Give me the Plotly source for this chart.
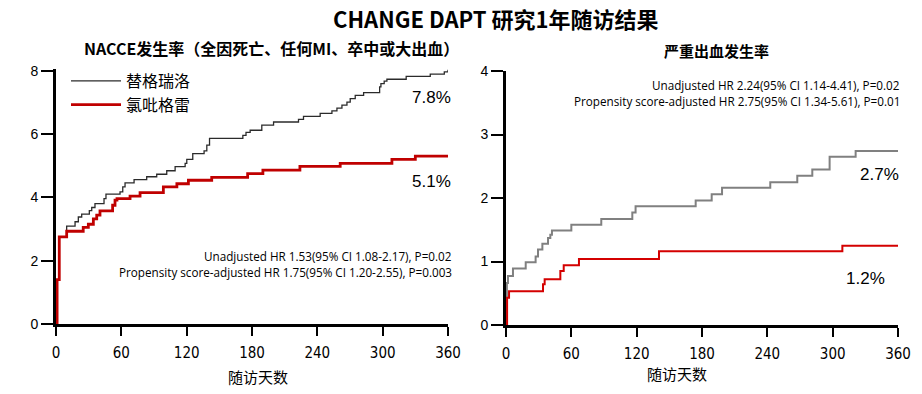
import plotly.graph_objects as go

# ---------------- data ----------------
tick_days = [0, 60, 120, 180, 240, 300, 360]

# Left panel: NACCE rate (%)
nacce_tica_days = [0, 1, 3, 9.8, 17.5, 20.5, 23.6, 30.6, 32.8, 35.8, 44.1, 45.9, 58.8, 61.3, 63.4,
                   71.7, 83.3, 92.5, 101.7, 109.4, 118.6, 120.1, 125.6, 136, 138.5, 141, 171.6,
                   174.5, 178.3, 189, 199.8, 222.7, 227.3, 242.6, 253.4, 258, 262.6, 267.2, 270.2,
                   274.8, 282.5, 297.2, 298.4, 301.4, 303.9, 321.6, 343.7, 356.6, 360]
nacce_tica_vals = [0, 1.4, 2.75, 3.09, 3.23, 3.38, 3.47, 3.58, 3.68, 3.80, 3.96, 4.10, 4.17, 4.33, 4.46,
                   4.56, 4.65, 4.73, 4.84, 4.97, 5.07, 5.20, 5.38, 5.47, 5.65, 5.86, 5.96,
                   6.05, 6.12, 6.28, 6.38, 6.46, 6.56, 6.65, 6.73, 6.82, 6.91, 7.01, 7.12,
                   7.22, 7.31, 7.49, 7.59, 7.67, 7.73, 7.82, 7.89, 7.96, 8.03]

nacce_clop_days = [0, 1, 3, 9.8, 25, 29.7, 34.3, 37.4, 40.4, 52, 54.2, 56, 68, 77.2, 98.6, 111,
                   121.6, 143, 176, 190, 224, 261, 308.5, 330, 360]
nacce_clop_vals = [0, 1.4, 2.75, 2.93, 3.05, 3.15, 3.32, 3.44, 3.57, 3.75, 3.91, 3.96, 4.04, 4.15,
                   4.33, 4.43, 4.54, 4.63, 4.75, 4.86, 4.98, 5.07, 5.20, 5.30, 5.30]

# Right panel: major bleeding rate (%)
bleed_tica_days = [0, 0.8, 1.8, 6.4, 18.1, 27.2, 29.4, 33.4, 38.6, 40.7, 42.2, 60, 87.5, 116, 119,
                   174.2, 188.9, 198.4, 242.7, 267.5, 281.3, 297.2, 321.1, 360]
bleed_tica_vals = [0, 0.66, 0.77, 0.89, 0.99, 1.08, 1.19, 1.28, 1.37, 1.42, 1.49, 1.58, 1.67, 1.77,
                   1.87, 1.96, 2.06, 2.16, 2.25, 2.35, 2.45, 2.65, 2.74, 2.74]

bleed_clop_days = [0, 1, 2.8, 34, 35.5, 49.9, 53, 67, 140.5, 308.9, 360]
bleed_clop_vals = [0, 0.43, 0.53, 0.64, 0.72, 0.85, 0.94, 1.04, 1.16, 1.25, 1.25]

names = ["替格瑞洛", "氯吡格雷"]
left_pct = ["7.8%", "5.1%"]
right_pct = ["2.7%", "1.2%"]
left_stats = ["Unadjusted HR 1.53(95% CI 1.08-2.17), P=0.02",
              "Propensity score-adjusted HR 1.75(95% CI 1.20-2.55), P=0.003"]
right_stats = ["Unadjusted HR 2.24(95% CI 1.14-4.41), P=0.02",
               "Propensity score-adjusted HR 2.75(95% CI 1.34-5.61), P=0.01"]

title = "CHANGE DAPT 研究1年随访结果"
left_title = "NACCE发生率（全因死亡、任何MI、卒中或大出血）"
right_title = "严重出血发生率"
x_title = "随访天数"

# ---------------- figure ----------------
W, H = 922, 394
CJK = "Noto Sans CJK SC, Noto Sans, sans-serif"
NARROW = "Liberation Sans Narrow, DejaVu Sans Condensed, Liberation Sans, sans-serif"

fig = go.Figure()
fig.add_trace(go.Scatter(x=nacce_tica_days, y=nacce_tica_vals, mode="lines", line_shape="hv",
                         line=dict(color="#2b2b2b", width=1.3), name=names[0],
                         xaxis="x", yaxis="y"))
fig.add_trace(go.Scatter(x=nacce_clop_days, y=nacce_clop_vals, mode="lines", line_shape="hv",
                         line=dict(color="#c00000", width=2.8), name=names[1],
                         xaxis="x", yaxis="y"))
fig.add_trace(go.Scatter(x=bleed_tica_days, y=bleed_tica_vals, mode="lines", line_shape="hv",
                         line=dict(color="#808080", width=2), name=names[0], showlegend=False,
                         xaxis="x2", yaxis="y2"))
fig.add_trace(go.Scatter(x=bleed_clop_days, y=bleed_clop_vals, mode="lines", line_shape="hv",
                         line=dict(color="#d40000", width=2), name=names[1], showlegend=False,
                         xaxis="x2", yaxis="y2"))

def px_x(p):
    return p / W

def px_y(p):
    return (H - p) / H

xcommon = dict(range=[0, 360], tickvals=tick_days, showline=True, linecolor="black", linewidth=3,
               ticks="outside", ticklen=9, tickwidth=2, tickcolor="black", showgrid=False,
               zeroline=False, automargin=False,
               tickfont=dict(family=NARROW, size=15, color="black"),
               ticklabelstandoff=4)
ycommon = dict(showline=True, linecolor="black", linewidth=3, ticks="outside", ticklen=12,
               tickwidth=2, tickcolor="black", showgrid=False, zeroline=False, automargin=False,
               tickfont=dict(family="Liberation Sans, sans-serif", size=14, color="black"))

fig.update_layout(
    width=W, height=H, margin=dict(l=0, r=0, t=0, b=0, autoexpand=False),
    paper_bgcolor="white", plot_bgcolor="white",
    xaxis=dict(domain=[px_x(56), px_x(448)], anchor="y", **xcommon),
    yaxis=dict(domain=[px_y(324), px_y(68.8)], anchor="x", range=[0, 8.06],
               tickvals=[0, 2, 4, 6, 8], **ycommon),
    xaxis2=dict(domain=[px_x(506), px_x(898)], anchor="y2", **xcommon),
    yaxis2=dict(domain=[px_y(325), px_y(71)], anchor="x2", range=[0, 4],
                tickvals=[0, 1, 2, 3, 4], **ycommon),
    showlegend=True,
    legend=dict(x=px_x(66), y=px_y(64), xanchor="left", yanchor="top",
                bgcolor="rgba(0,0,0,0)", font=dict(family=CJK, size=16, color="black"),
                tracegroupgap=0, itemwidth=50),
)

ann = []
def add(text, x, y, size, family=CJK, xanchor="center"):
    ann.append(dict(text=text, x=px_x(x), y=px_y(y), xref="paper", yref="paper",
                    xanchor=xanchor, yanchor="middle", showarrow=False,
                    font=dict(family=family, size=size, color="black")))

add("<b>" + title + "</b>", 496, 18, 22)
add("<b>" + left_title + "</b>", 271, 48, 16)
add("<b>" + right_title + "</b>", 716, 50, 15)
for cx, cy in ((258, 376), (677, 373)):
    add(x_title, cx, cy, 15)
for t, yy in zip(left_pct, (98, 181)):
    add(t, 453, yy, 17, "Liberation Sans, sans-serif", "right")
for t, xx, yy in zip(right_pct, (901, 887), (174, 278)):
    add(t, xx, yy, 17, "Liberation Sans, sans-serif", "right")
for t, yy in zip(left_stats, (256, 272)):
    add(t, 454, yy, 11.7, "Open Sans, sans-serif", "right")
for t, yy in zip(right_stats, (85, 101)):
    add(t, 902, yy, 11.7, "Open Sans, sans-serif", "right")
fig.update_layout(annotations=ann)

fig.write_html("out.html", config={"displayModeBar": False},
               post_script="document.body.style.margin='0';")
